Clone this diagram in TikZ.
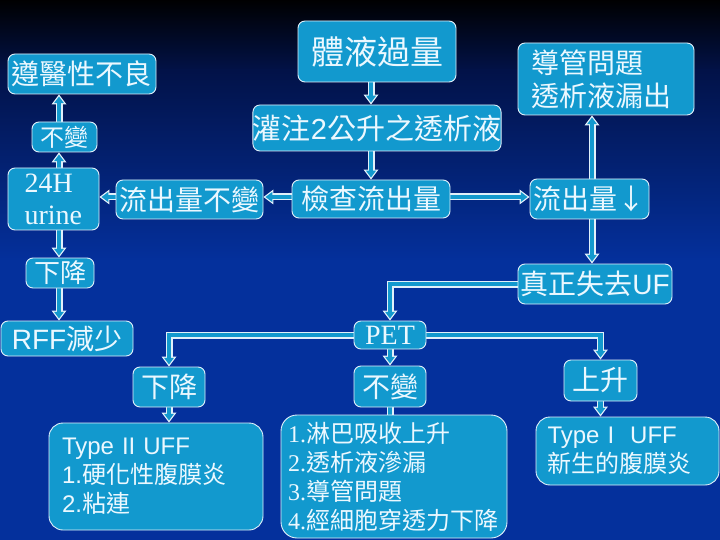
\documentclass[tikz,border=0pt]{standalone}
\usepackage{fontspec}
\setmainfont{Noto Sans CJK TC}
\newfontfamily\ar{Liberation Sans}
\newfontfamily\tm{Liberation Serif}
\usetikzlibrary{arrows.meta,calc}
\pgfdeclarelayer{back}
\pgfdeclarelayer{bg}
\pgfsetlayers{back,bg,main}
\definecolor{boxfill}{RGB}{18,153,206}
\definecolor{boxline}{RGB}{225,240,250}
\definecolor{txt}{RGB}{235,248,255}
\definecolor{bgblue}{RGB}{4,48,156}
\definecolor{bgmid}{RGB}{2,18,72}
\tikzset{
 bx/.style={draw=boxline, fill=boxfill, rounded corners=7pt, line width=0.9pt, text=txt, inner sep=0pt, font=\fontsize{28}{33}\selectfont},
 arrout/.style={line width=7pt, draw=boxline, -{Triangle[width=15pt,length=10pt,line width=0pt]}},
 arrin/.style={line width=4.4pt, draw=boxfill, shorten >=2.1pt, -{Triangle[width=10pt,length=6.7pt,line width=0pt]}},
}
\newcommand\barrow[1]{\draw[arrout] #1; \draw[arrin] #1;}
\begin{document}
\begin{tikzpicture}[x=1pt,y=-1pt]
\useasboundingbox (0,0) rectangle (720,540);
\begin{pgfonlayer}{back}
\shade[top color=black, bottom color=bgmid] (0,-1) rectangle (720,71);
\shade[top color=bgmid, bottom color=bgblue] (0,70) rectangle (720,261);
\fill[bgblue] (0,260) rectangle (720,541);
\end{pgfonlayer}

\node[bx, minimum width=148pt, minimum height=40pt] (comp) at (82,74) {遵醫性不良};
\node[bx, minimum width=65pt, minimum height=30pt, font=\fontsize{24}{28}\selectfont] (nc1) at (64.5,137) {不變};
\node[bx, minimum width=91pt, minimum height=62pt, align=left, text width=58pt, font=\tm\fontsize{28}{32}\selectfont] (urine) at (53.5,199) {24H\\urine};
\node[bx, minimum width=147pt, minimum height=39pt] (outsame) at (189.5,199.5) {流出量不變};
\node[bx, minimum width=158pt, minimum height=38pt] (check) at (371,199) {檢查流出量};
\node[bx, minimum width=158pt, minimum height=61pt, font=\fontsize{33}{36}\selectfont] (overload) at (377,51.5) {體液過量};
\node[bx, minimum width=248pt, minimum height=46pt, font=\fontsize{29}{33}\selectfont] (infuse) at (377,128) {灌注{\ar 2}公升之透析液};
\node[bx, minimum width=176pt, minimum height=72pt, align=left, text width=150pt] (cath) at (606,79) {導管問題\\透析液漏出};
\node[bx, minimum width=119pt, minimum height=40pt] (outdown) at (589.5,199) {流出量↓};
\node[bx, minimum width=154pt, minimum height=40pt] (uf) at (595,284) {真正失去{\ar UF}};
\node[bx, minimum width=68pt, minimum height=30pt, font=\fontsize{26}{30}\selectfont] (dec1) at (60,273) {下降};
\node[bx, minimum width=132pt, minimum height=35pt] (rff) at (67,338.5) {{\ar RFF}減少};
\node[bx, minimum width=72pt, minimum height=28pt, font=\tm\fontsize{28}{30}\selectfont] (pet) at (390,335) {PET};
\node[bx, minimum width=72pt, minimum height=41pt] (nc2) at (390,386.5) {不變};
\node[bx, minimum width=73pt, minimum height=41pt] (up) at (600.5,380.5) {上升};
\node[bx, minimum width=72pt, minimum height=40pt] (dec2) at (169,387) {下降};
\node[bx, rounded corners=14pt, minimum width=214pt, minimum height=107pt, align=left, text width=188pt, font=\fontsize{24}{29}\selectfont] (t2) at (156,476.5) {{\ar Type II UFF}\\{\ar 1.}硬化性腹膜炎\\{\ar 2.}粘連};
\node[bx, rounded corners=16pt, minimum width=226pt, minimum height=123pt, align=left, text width=212pt, font=\fontsize{24}{29}\selectfont] (lst) at (394,476.5) {{\tm 1.}淋巴吸收上升\\{\tm 2.}透析液滲漏\\{\tm 3.}導管問題\\{\tm 4.}經細胞穿透力下降};
\node[bx, rounded corners=14pt, minimum width=183pt, minimum height=68pt, align=left, text width=160pt, font=\fontsize{24}{29}\selectfont] (t1) at (627.5,451) {{\ar Type I\ \ UFF}\\新生的腹膜炎};

\coordinate (xl) at (59,0);
\coordinate (xc) at (371,0);
\coordinate (xr) at (592,0);
\coordinate (yh) at (0,197);
\coordinate (lstin) at ($(nc2.south |- lst.north)+(0,12)$);

\begin{pgfonlayer}{bg}
\barrow{(overload.south -| xc) -- (infuse.north -| xc)}
\barrow{(infuse.south -| xc) -- (check.north -| xc)}
\barrow{(check.west |- yh) -- (outsame.east |- yh)}
\barrow{(check.east |- yh) -- (outdown.west |- yh)}
\barrow{(outsame.west |- yh) -- (urine.east |- yh)}
\barrow{(urine.north -| xl) -- (nc1.south -| xl)}
\barrow{(nc1.north -| xl) -- (comp.south -| xl)}
\barrow{(urine.south -| xl) -- (dec1.north -| xl)}
\barrow{(dec1.south -| xl) -- (rff.north -| xl)}
\barrow{(outdown.north -| xr) -- (cath.south -| xr)}
\barrow{(outdown.south -| xr) -- (uf.north -| xr)}
\barrow{(uf.west) -| (pet.north)}
\barrow{(pet.west) -| (dec2.north)}
\barrow{(pet.east) -| (up.north)}
\barrow{(pet.south) -- (nc2.north)}
\barrow{(nc2.south) -- (lstin)}
\barrow{(dec2.south) -- (dec2.south |- t2.north)}
\barrow{(up.south) -- (up.south |- t1.north)}
\end{pgfonlayer}
\end{tikzpicture}
\end{document}
